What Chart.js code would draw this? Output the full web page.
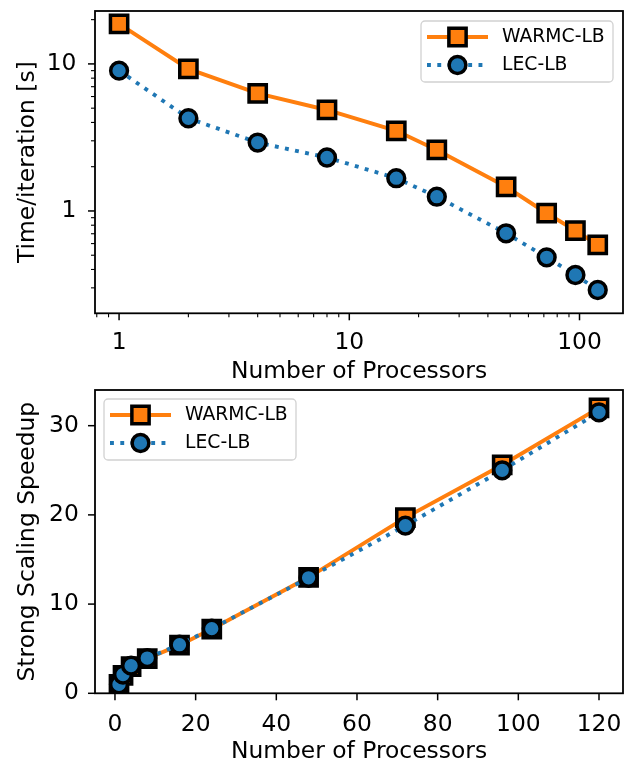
<!DOCTYPE html>
<html>
<head>
<meta charset="utf-8">
<script src="https://cdn.jsdelivr.net/npm/chart.js@4.4.0/dist/chart.umd.min.js"></script>
<style>
html, body { margin: 0; padding: 0; background: #ffffff; }
#wrap { position: relative; width: 627px; height: 764px; overflow: hidden; background: #ffffff; }
canvas { position: absolute; left: 0; }
#c1 { top: 0px; }
#c2 { top: 380px; }
</style>
</head>
<body>
<div id="wrap">
  <canvas id="c1" width="627" height="390"></canvas>
  <canvas id="c2" width="627" height="384"></canvas>
</div>
<script>
// ---------------- data ----------------
const processors   = [1, 2, 4, 8, 16, 24, 48, 72, 96, 120];
const warmcTime    = [18.7, 9.25, 6.3, 4.86, 3.51, 2.6, 1.46, 0.965, 0.735, 0.587];
const lecTime      = [9.0, 4.27, 2.92, 2.31, 1.67, 1.25, 0.705, 0.484, 0.367, 0.29];
const warmcSpeedup = [1.0, 2.0, 3.0, 3.9, 5.4, 7.2, 13.0, 19.7, 25.6, 32.0];
const lecSpeedup   = [1.0, 2.1, 3.1, 3.95, 5.45, 7.25, 12.95, 18.8, 25.0, 31.5];
const seriesNames  = ['WARMC-LB', 'LEC-LB'];

const topXMajor = [1, 10, 100];
const topXMinor = [0.8, 0.9, 2, 3, 4, 5, 6, 7, 8, 9, 20, 30, 40, 50, 60, 70, 80, 90];
const topYMajor = [1, 10];
const topYMinor = [0.3, 0.4, 0.5, 0.6, 0.7, 0.8, 0.9, 2, 3, 4, 5, 6, 7, 8, 9, 20];
const botXMajor = [0, 20, 40, 60, 80, 100, 120];
const botYMajor = [0, 10, 20, 30];

const xTitle    = 'Number of Processors';
const topYTitle = 'Time/iteration [s]';
const botYTitle = 'Strong Scaling Speedup';

// ---------------- styling ----------------
const FONT = 'DejaVu Sans';
const LABEL_SIZE = 23.4;
const LEGEND_SIZE = 18.75;
Chart.defaults.font.family = FONT;
Chart.defaults.color = '#000000';
const ORANGE = '#ff7f0e';
const BLUE = '#1f77b4';

const mplAxes = {
  id: 'mplAxes',
  afterDatasetsDraw(chart, args, opts) {
    const ctx = chart.ctx;
    const a = chart.chartArea;
    const sx = chart.scales.x, sy = chart.scales.y;
    ctx.save();
    ctx.strokeStyle = '#000000';
    ctx.lineCap = 'butt';
    const drawX = (vals, len, lw) => {
      ctx.lineWidth = lw;
      vals.forEach(v => {
        const p = sx.getPixelForValue(v);
        ctx.beginPath(); ctx.moveTo(p, a.bottom); ctx.lineTo(p, a.bottom + len); ctx.stroke();
      });
    };
    const drawY = (vals, len, lw) => {
      ctx.lineWidth = lw;
      vals.forEach(v => {
        const p = sy.getPixelForValue(v);
        ctx.beginPath(); ctx.moveTo(a.left, p); ctx.lineTo(a.left - len, p); ctx.stroke();
      });
    };
    drawX(opts.xMajor || [], 7, 1.5);
    drawX(opts.xMinor || [], 4, 1.1);
    drawY(opts.yMajor || [], 7, 1.5);
    drawY(opts.yMinor || [], 4, 1.1);
    ctx.lineWidth = 1.8;
    ctx.strokeRect(a.left, a.top, a.right - a.left, a.bottom - a.top);
    ctx.restore();
  }
};

const mplLegend = {
  id: 'mplLegend',
  afterDraw(chart, args, opts) {
    const ctx = chart.ctx;
    const a = chart.chartArea;
    const w = 192, h = 61;
    const left = opts.corner === 'ne' ? a.right - 10 - w : a.left + 9;
    const top = a.top + (opts.corner === 'ne' ? 10 : 9);
    ctx.save();
    ctx.beginPath();
    if (ctx.roundRect) ctx.roundRect(left, top, w, h, 4); else ctx.rect(left, top, w, h);
    ctx.fillStyle = 'rgba(255,255,255,0.8)';
    ctx.fill();
    ctx.lineWidth = 1.3;
    ctx.strokeStyle = 'rgba(204,204,204,0.9)';
    ctx.stroke();
    const items = chart.data.datasets;
    items.forEach((ds, i) => {
      const y = top + 16 + i * 28;
      ctx.beginPath();
      ctx.setLineDash(ds.borderDash || []);
      ctx.lineCap = ds.borderCapStyle || 'butt';
      ctx.lineWidth = ds.borderWidth;
      ctx.strokeStyle = ds.borderColor;
      ctx.moveTo(left + 6, y); ctx.lineTo(left + 67, y);
      ctx.stroke();
      ctx.setLineDash([]);
      ctx.fillStyle = ds.pointBackgroundColor;
      ctx.strokeStyle = ds.pointBorderColor;
      ctx.lineWidth = ds.pointBorderWidth;
      Chart.helpers.drawPoint(ctx, {pointStyle: ds.pointStyle, radius: ds.pointRadius, borderWidth: ds.pointBorderWidth, rotation: 0}, left + 36.5, y);
      ctx.fillStyle = '#000000';
      ctx.font = LEGEND_SIZE + 'px "' + FONT + '"';
      ctx.textBaseline = 'middle';
      ctx.textAlign = 'left';
      ctx.fillText(ds.label, left + 81, y);
    });
    ctx.restore();
  }
};

function makeDatasets(xs, wy, ly) {
  return [
    {
      label: seriesNames[0],
      data: xs.map((x, i) => ({x: x, y: wy[i]})),
      borderColor: ORANGE, backgroundColor: ORANGE,
      borderWidth: 3.9, borderCapStyle: 'butt',
      pointStyle: 'rect', pointRadius: 12.2, pointHoverRadius: 12.2,
      pointBackgroundColor: ORANGE, pointBorderColor: '#000000', pointBorderWidth: 3.5,
      tension: 0, order: 1
    },
    {
      label: seriesNames[1],
      data: xs.map((x, i) => ({x: x, y: ly[i]})),
      borderColor: BLUE, backgroundColor: BLUE,
      borderWidth: 3.9, borderDash: [3.9, 6.4], borderCapStyle: 'butt',
      pointStyle: 'circle', pointRadius: 8.4, pointHoverRadius: 8.4,
      pointBackgroundColor: BLUE, pointBorderColor: '#000000', pointBorderWidth: 3.5,
      tension: 0, order: 0
    }
  ];
}

function makeScale(cfg) {
  const allTicks = cfg.major.concat(cfg.minor || []).sort((p, q) => p - q);
  return {
    type: cfg.type,
    position: cfg.position,
    min: cfg.min, max: cfg.max,
    bounds: 'data',
    grid: {display: true, drawOnChartArea: false, drawTicks: false},
    border: {display: false},
    afterBuildTicks: (scale) => { scale.ticks = allTicks.map(v => ({value: v})); },
    afterFit: (scale) => {
      if (cfg.isX) scale.height = cfg.size; else scale.width = cfg.size;
      scale.paddingLeft = 0; scale.paddingRight = 0; scale.paddingTop = 0; scale.paddingBottom = 0;
    },
    ticks: {
      autoSkip: false, maxRotation: 0, minRotation: 0,
      padding: cfg.tickPad,
      font: {size: LABEL_SIZE},
      color: '#000000',
      callback: (v) => cfg.major.includes(v) ? String(v) : ''
    },
    title: {
      display: true, text: cfg.title, color: '#000000',
      font: {size: LABEL_SIZE, lineHeight: 1},
      padding: cfg.titlePad
    }
  };
}

function makeChart(id, datasets, xCfg, yCfg, padTop, legendCorner, xTicks, yTicks) {
  return new Chart(document.getElementById(id), {
    type: 'line',
    data: {datasets: datasets},
    options: {
      responsive: false,
      animation: false,
      devicePixelRatio: 1,
      layout: {autoPadding: false, padding: {top: padTop, right: 4, bottom: 0, left: 0}},
      scales: {x: makeScale(xCfg), y: makeScale(yCfg)},
      plugins: {
        legend: {display: false},
        tooltip: {enabled: false},
        mplAxes: {xMajor: xTicks[0], xMinor: xTicks[1], yMajor: yTicks[0], yMinor: yTicks[1]},
        mplLegend: {corner: legendCorner}
      }
    },
    plugins: [mplAxes, mplLegend]
  });
}

makeChart('c1', makeDatasets(processors, warmcTime, lecTime),
  {type: 'logarithmic', position: 'bottom', isX: true, min: 0.786, max: 154.5, size: 76.7,
   major: topXMajor, minor: topXMinor, tickPad: 15.8, title: xTitle, titlePad: {top: 0, bottom: 6.25}},
  {type: 'logarithmic', position: 'left', isX: false, min: 0.2014, max: 22.9, size: 95,
   major: topYMajor, minor: topYMinor, tickPad: 18.5, title: topYTitle, titlePad: {top: 16.1, bottom: 0}},
  11, 'ne', [topXMajor, topXMinor], [topYMajor, topYMinor]);

makeChart('c2', makeDatasets(processors, warmcSpeedup, lecSpeedup),
  {type: 'linear', position: 'bottom', isX: true, min: -4.95, max: 125.95, size: 70.7,
   major: botXMajor, minor: [], tickPad: 17.8, title: xTitle, titlePad: {top: 0, bottom: 0.25}},
  {type: 'linear', position: 'left', isX: false, min: 0, max: 34.0, size: 95,
   major: botYMajor, minor: [], tickPad: 16.2, title: botYTitle, titlePad: {top: 16.1, bottom: 0}},
  10, 'nw', [botXMajor, []], [botYMajor, []]);
</script>
</body>
</html>
